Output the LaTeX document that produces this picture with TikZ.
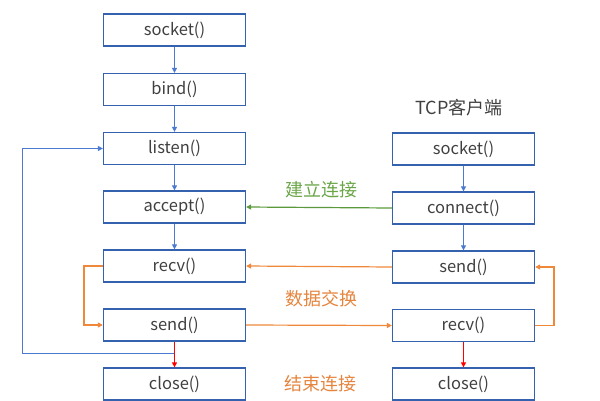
\documentclass[tikz,border=0pt]{standalone}
\usepackage{fontspec}
\setmainfont{Noto Sans CJK SC}
\usetikzlibrary{arrows.meta}
\definecolor{boxc}{HTML}{3562AE}
\definecolor{lblue}{HTML}{4A7BD0}
\definecolor{lorange}{HTML}{F0883A}
\definecolor{lgreen}{HTML}{5A9A3C}
\definecolor{tgreen}{HTML}{6AA548}
\definecolor{torange}{HTML}{E5843E}
\definecolor{txt}{HTML}{404040}
\tikzset{
  fbox/.style={draw=boxc, line width=1.3pt, minimum width=142pt, minimum height=32pt, inner sep=0pt, text=txt, font=\fontsize{16.5}{18}\selectfont},
  tip/.style={-{Triangle[length=5pt,width=5pt]}},
  bl/.style={tip, draw=lblue, line width=1pt},
  ol/.style={tip, draw=lorange, line width=1.2pt},
  gl/.style={tip, draw=lgreen, line width=1.2pt},
  rl/.style={tip, draw=red, line width=1.2pt},
  lab/.style={font=\fontsize{18}{20}\selectfont, inner sep=0pt}
}
\begin{document}
\begin{tikzpicture}[x=1pt,y=-1pt]
\useasboundingbox (0,0) rectangle (600,400);
\node[fbox] (s1) at (174.5,30) {socket()};
\node[fbox] (b1) at (174.5,89.5) {bind()};
\node[fbox] (l1) at (174.5,148.5) {listen()};
\node[fbox] (a1) at (174.5,207) {accept()};
\node[fbox] (r1) at (174.5,266) {recv()};
\node[fbox] (d1) at (174.5,325) {send()};
\node[fbox] (c1) at (174.5,384) {close()};
\node[fbox] (s2) at (463.5,149) {socket()};
\node[fbox] (n2) at (463.5,208) {connect()};
\node[fbox] (d2) at (463.5,267) {send()};
\node[fbox] (r2) at (463.5,325.5) {recv()};
\node[fbox] (c2) at (463.5,384) {close()};
\node[lab, text=txt] (tcp) at (459,108) {TCP客户端};
\node[lab, text=tgreen] (g1) at (321,190) {建立连接};
\node[lab, text=torange] (g2) at (321,299) {数据交换};
\node[lab, text=torange] (g3) at (320,384) {结束连接};
\draw[bl] (s1) -- (b1);
\draw[bl] (b1) -- (l1);
\draw[bl] (l1) -- (a1);
\draw[bl] (a1) -- (r1);
\draw[bl] (s2) -- (n2);
\draw[bl] (n2) -- (d2);
\coordinate (j) at (174.5,353);
\coordinate (lc) at (22,353);
\draw[bl] (j) -- (lc) |- (l1.west);
\draw[rl] (d1) -- (c1);
\draw[rl] (r2) -- (c2);
\draw[gl] (n2.west) -- (a1.east);
\draw[ol] (d2.west) -- (r1.east);
\draw[ol] (d1.east) -- (r2.west);
\coordinate (lo) at (84,266);
\draw[ol] (r1.west) -- (lo) |- (d1.west);
\coordinate (ro) at (554,325.5);
\draw[ol] (r2.east) -- (ro) |- (d2.east);
\end{tikzpicture}
\end{document}
